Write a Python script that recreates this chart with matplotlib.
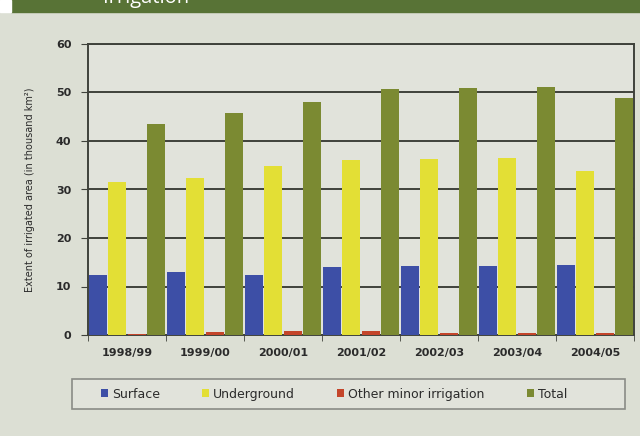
import numpy as np
import matplotlib
matplotlib.use("Agg")
from matplotlib import pyplot as plt
from matplotlib.patches import Rectangle

years = ["1998/99", "1999/00", "2000/01", "2001/02", "2002/03", "2003/04", "2004/05"]
surface = [12.3, 13.0, 12.3, 14.0, 14.3, 14.3, 14.5]
underground = [31.5, 32.3, 34.8, 36.1, 36.2, 36.5, 33.8]
other_minor = [0.3, 0.6, 0.9, 0.8, 0.5, 0.4, 0.5]
total = [43.5, 45.7, 48.0, 50.8, 50.9, 51.2, 48.8]

series = [("Surface", surface, "#3d4fa6"),
          ("Underground", underground, "#e3df35"),
          ("Other minor irrigation", other_minor, "#c4452a"),
          ("Total", total, "#7b8a32")]

bg = "#dcdfd4"
fig = plt.figure(figsize=(6.4, 4.36), dpi=100, facecolor=bg)

# green header strip, title mostly above the picture edge
fig.patches.append(Rectangle((11 / 640, 1 - 12 / 436), 1, 12 / 436,
                             transform=fig.transFigure, color="#587336", zorder=0))
fig.patches.append(Rectangle((0, 1 - 12 / 436), 11 / 640, 12 / 436,
                             transform=fig.transFigure, color="white", zorder=0))
fig.text(103 / 640, 1 - 2.5 / 436, "Irrigation", color="white", fontsize=14.5,
         family="Open Sans", va="baseline", ha="left")

ax = fig.add_axes([88 / 640, 1 - 335 / 436, 546 / 640, 291 / 436])
ax.set_facecolor("#e1e3db")

x = np.arange(len(years))
w = 0.25
for j, (name, vals, col) in enumerate(series):
    ax.bar(x + (j - 1.5) * w, vals, w * 0.9, color=col, label=name, zorder=3)

ax.set_xlim(-0.5, len(years) - 0.5)
ax.set_ylim(0, 60)
ax.set_yticks(range(0, 61, 10))
ax.yaxis.grid(True, color="#3f423b", linewidth=1.4, zorder=1)
ax.set_xticks(x)
ax.set_xticklabels(years, fontsize=8, color="#2b2b2b", fontweight="bold")
ax.set_xticks(np.arange(-0.5, len(years)), minor=True)
ax.tick_params(axis="x", which="major", length=0, pad=9)
ax.tick_params(axis="x", which="minor", length=4, color="#3f423b")
ax.tick_params(axis="y", labelsize=8, labelcolor="#2b2b2b", length=5,
               color="#3f423b", pad=7)
for lab in ax.get_yticklabels():
    lab.set_fontweight("bold")
for s in ax.spines.values():
    s.set_color("#3f423b")
    s.set_linewidth(1.4)

ax.set_ylabel("Extent of irrigated area (in thousand km²)", fontsize=7,
              color="#2b2b2b", labelpad=15)

# legend box drawn by hand, entries laid out by the legend
fig.patches.append(Rectangle((72 / 640, 1 - 409 / 436), 553 / 640, 30 / 436,
                             transform=fig.transFigure, facecolor="#e1e3db",
                             edgecolor="#8a8c86", linewidth=1.2, zorder=1))
leg = fig.legend(loc="center left", bbox_to_anchor=(90 / 640, 1 - 394 / 436),
                 ncol=4, fontsize=9, frameon=False,
                 handlelength=0.55, handleheight=0.55, columnspacing=3.4,
                 handletextpad=0.3)
for t in leg.get_texts():
    t.set_color("#2b2b2b")

fig.savefig("out.png", dpi=100, facecolor=bg)
